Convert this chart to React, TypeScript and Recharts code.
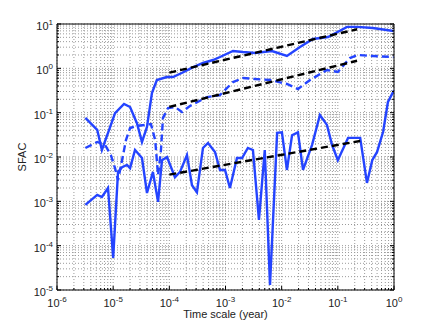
import { LineChart, Line, XAxis, YAxis, CartesianGrid } from 'recharts'

// top curve (solid)
const topX = [3.2e-6, 5.2e-6, 6.3e-6, 8.1e-6, 1.08e-5, 1.56e-5, 2.0e-5, 2.65e-5, 3.26e-5, 4.0e-5, 4.9e-5, 6.0e-5, 9.0e-5, 1.16e-4, 1.66e-4, 2.5e-4, 3.97e-4, 6.0e-4, 7.98e-4, 1.36e-3, 2.05e-3, 3.35e-3, 6.7e-3, 1.24e-2, 2.12e-2, 3.6e-2, 6.7e-2, 0.146, 0.22, 0.42, 0.98]
const topY = [0.076, 0.041, 0.0144, 0.035, 0.098, 0.157, 0.134, 0.058, 0.0218, 0.0475, 0.277, 0.546, 0.637, 0.637, 0.785, 1.02, 1.32, 1.54, 1.8, 2.46, 2.33, 2.22, 2.46, 1.9, 3.03, 4.6, 5.1, 8.6, 8.6, 8.1, 6.95]

// middle curve (dashed)
const midX = [3.2e-6, 5.2e-6, 7.2e-6, 9.1e-6, 1.08e-5, 1.22e-5, 1.44e-5, 1.69e-5, 2.0e-5, 2.55e-5, 3.7e-5, 4.7e-5, 5.6e-5, 6.3e-5, 7.1e-5, 7.7e-5, 9.5e-5, 1.26e-4, 1.68e-4, 2.33e-4, 4.7e-4, 7.98e-4, 1.36e-3, 2.05e-3, 3.35e-3, 6.2e-3, 1.24e-2, 1.95e-2, 3.2e-2, 6.4e-2, 0.1, 0.164, 0.229, 0.42, 0.98]
const midY = [0.016, 0.0218, 0.0186, 0.011, 5.6e-3, 3.0e-3, 8.5e-3, 0.024, 0.045, 0.05, 0.053, 0.0555, 0.024, 3.9e-3, 0.0144, 0.076, 0.127, 0.134, 0.104, 0.141, 0.225, 0.25, 0.49, 0.605, 0.574, 0.546, 0.444, 0.342, 0.546, 0.916, 0.826, 1.71, 2.0, 1.9, 1.8]

// bottom curve (solid)
const lowX = [3.2e-6, 5.2e-6, 6.3e-6, 8.1e-6, 1.0e-5, 1.22e-5, 1.44e-5, 1.76e-5, 2.0e-5, 2.45e-5, 3.26e-5, 4.0e-5, 5.1e-5, 6.3e-5, 7.4e-5, 9.1e-5, 1.26e-4, 1.55e-4, 2.06e-4, 2.53e-4, 3.1e-4, 3.97e-4, 4.88e-4, 6.5e-4, 7.98e-4, 9.8e-4, 1.2e-3, 1.6e-3, 1.97e-3, 2.5e-3, 3.08e-3, 3.94e-3, 5.0e-3, 6.2e-3, 8.3e-3, 1.01e-2, 1.24e-2, 1.53e-2, 1.95e-2, 2.4e-2, 3.47e-2, 4.8e-2, 6.4e-2, 7.9e-2, 0.1, 0.152, 0.25, 0.33, 0.41, 0.5, 0.64, 0.78, 1.0]
const lowY = [8.3e-4, 1.4e-3, 1.25e-3, 2.0e-3, 5.3e-5, 4.6e-3, 5.9e-3, 6.6e-3, 5.6e-3, 1.44e-2, 9.5e-3, 1.54e-3, 4.6e-3, 9.7e-4, 8.5e-3, 1.0e-2, 3.5e-3, 4.6e-3, 1.1e-2, 2.3e-3, 1.6e-3, 1.6e-2, 2.07e-2, 1.3e-2, 5.1e-3, 5.1e-3, 2.0e-3, 9.5e-3, 9.5e-3, 1.6e-2, 1.44e-2, 3.8e-4, 1.44e-2, 1.3e-5, 3.5e-2, 3.6e-2, 5.1e-3, 3.1e-2, 3.6e-2, 5.1e-3, 1.86e-2, 8.85e-2, 5.3e-2, 1.86e-2, 8.5e-3, 2.7e-2, 2.7e-2, 2.6e-3, 8.5e-3, 1.3e-2, 3.7e-2, 0.174, 0.32]

// power-law fits (black dashed)
const fitTopX = [1e-4, 0.22]
const fitTopY = [0.8, 7.6]
const fitMidX = [1e-4, 0.22]
const fitMidY = [0.135, 1.48]
const fitLowX = [1e-4, 0.25]
const fitLowY = [0.004, 0.023]

const xDecades = [1e-6, 1e-5, 1e-4, 1e-3, 1e-2, 1e-1, 1]
const yDecades = [1e-5, 1e-4, 1e-3, 1e-2, 1e-1, 1, 10]

const BLUE = '#2444ff'
const FONT = '"Liberation Sans", Arial, sans-serif'

const zip = (xs: number[], ys: number[]) => xs.map((x, i) => ({ x, y: ys[i] }))

// major + minor log ticks
const withMinor = (decades: number[]) => {
  const out: number[] = []
  decades.forEach((d, i) => {
    if (i === decades.length - 1) { out.push(d); return }
    for (let m = 1; m <= 9; m++) out.push(d * m)
  })
  return out
}
const xTicks = withMinor(xDecades)
const yTicks = withMinor(yDecades)

const isDecade = (v: number) => Math.abs(Math.log10(v) - Math.round(Math.log10(v))) < 1e-6
const expOf = (v: number) => String(Math.round(Math.log10(v)))

function Pow({ x, y, v, anchor }: { x: number; y: number; v: number; anchor: string }) {
  return (
    <text x={x} y={y} textAnchor={anchor} fontFamily={FONT} fontSize={11} fill="#222">
      10<tspan dy={-5} fontSize={8}>{expOf(v)}</tspan>
    </text>
  )
}

function BottomTick({ x, y, payload }: any) {
  const major = isDecade(payload.value)
  return (
    <g>
      <line x1={x} x2={x} y1={y} y2={y - (major ? 4 : 2)} stroke="#000" />
      {major && <Pow x={x} y={y + 17} v={payload.value} anchor="middle" />}
    </g>
  )
}

function TopTick({ x, y, payload }: any) {
  const major = isDecade(payload.value)
  return <line x1={x} x2={x} y1={y} y2={y + (major ? 4 : 2)} stroke="#000" />
}

function LeftTick({ x, y, payload }: any) {
  const major = isDecade(payload.value)
  return (
    <g>
      <line x1={x} x2={x + (major ? 4 : 2)} y1={y} y2={y} stroke="#000" />
      {major && <Pow x={x - 4} y={y + 6} v={payload.value} anchor="end" />}
    </g>
  )
}

function RightTick({ x, y, payload }: any) {
  const major = isDecade(payload.value)
  return <line x1={x} x2={x - (major ? 4 : 2)} y1={y} y2={y} stroke="#000" />
}

function XTitle({ viewBox }: any) {
  return (
    <text x={viewBox.x + viewBox.width / 2} y={viewBox.y + 28} textAnchor="middle" fontFamily={FONT} fontSize={11} fill="#222">
      Time scale (year)
    </text>
  )
}

function YTitle({ viewBox }: any) {
  const cx = viewBox.x + 14
  const cy = viewBox.y + viewBox.height / 2
  return (
    <text x={cx} y={cy} transform={`rotate(-90, ${cx}, ${cy})`} textAnchor="middle" fontFamily={FONT} fontSize={11} fill="#222">
      SFAC
    </text>
  )
}

export default function App() {
  const axisLine = { stroke: '#000' }
  return (
    <div style={{ position: 'absolute', left: 0, top: 0, width: 436, height: 327, background: '#fff' }}>
      <LineChart width={436} height={327} margin={{ top: 23, right: 41, bottom: 7, left: 12 }}>
        <CartesianGrid stroke="#9a9a9a" strokeDasharray="1 2" />
        <XAxis dataKey="x" type="number" scale="log" domain={[1e-6, 1]} ticks={xTicks} interval={0}
          allowDataOverflow height={30} tickSize={0} tickMargin={0} tickLine={false} axisLine={axisLine}
          tick={<BottomTick />} label={{ content: (p: any) => <XTitle viewBox={p.viewBox} /> }} />
        <XAxis xAxisId="top" orientation="top" type="number" scale="log" domain={[1e-6, 1]} ticks={xTicks} interval={0}
          allowDataOverflow height={1} tickSize={0} tickMargin={0} tickLine={false} axisLine={axisLine}
          tick={<TopTick />} />
        <YAxis type="number" scale="log" domain={[1e-5, 10]} ticks={yTicks} interval={0}
          allowDataOverflow width={45} tickSize={0} tickMargin={0} tickLine={false} axisLine={axisLine}
          tick={<LeftTick />} label={{ content: (p: any) => <YTitle viewBox={p.viewBox} /> }} />
        <YAxis yAxisId="right" orientation="right" type="number" scale="log" domain={[1e-5, 10]} ticks={yTicks} interval={0}
          allowDataOverflow width={1} tickSize={0} tickMargin={0} tickLine={false} axisLine={axisLine}
          tick={<RightTick />} />
        <Line data={zip(topX, topY)} dataKey="y" stroke={BLUE} strokeWidth={2.4} dot={false} isAnimationActive={false} />
        <Line data={zip(midX, midY)} dataKey="y" stroke={BLUE} strokeWidth={2.4} strokeDasharray="7 4" dot={false} isAnimationActive={false} />
        <Line data={zip(lowX, lowY)} dataKey="y" stroke={BLUE} strokeWidth={2.4} dot={false} isAnimationActive={false} />
        <Line data={zip(fitTopX, fitTopY)} dataKey="y" stroke="#000" strokeWidth={2.4} strokeDasharray="7 4" dot={false} isAnimationActive={false} />
        <Line data={zip(fitMidX, fitMidY)} dataKey="y" stroke="#000" strokeWidth={2.4} strokeDasharray="7 4" dot={false} isAnimationActive={false} />
        <Line data={zip(fitLowX, fitLowY)} dataKey="y" stroke="#000" strokeWidth={2.4} strokeDasharray="7 4" dot={false} isAnimationActive={false} />
      </LineChart>
    </div>
  )
}
